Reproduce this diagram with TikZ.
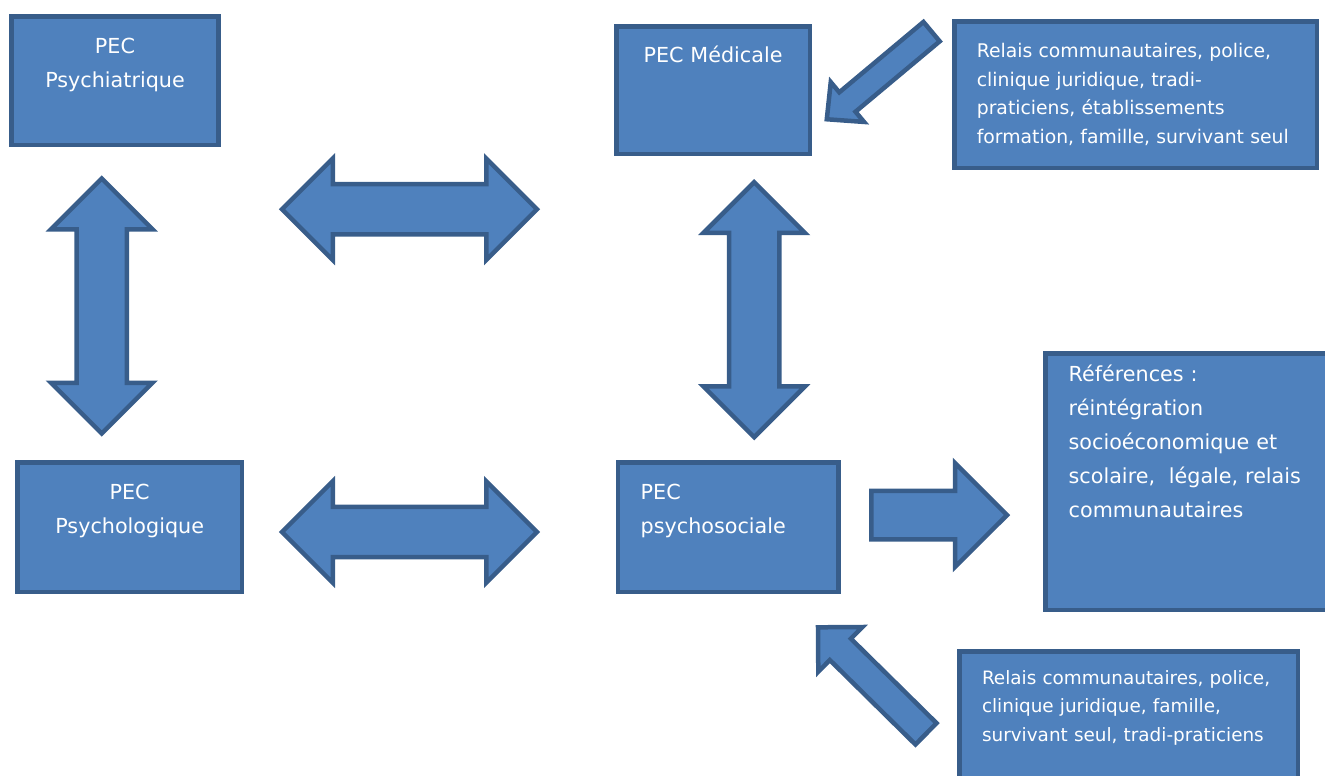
\documentclass[tikz,border=0pt]{standalone}
\usepackage{fontspec}
\setmainfont{DejaVu Sans}
\usetikzlibrary{shapes.arrows}

\definecolor{boxfill}{HTML}{4F81BD}
\definecolor{boxline}{HTML}{385D8A}

\begin{document}
\begin{tikzpicture}[
        x=1pt, y=-1pt,
        box/.style={rectangle, draw=boxline, line width=4.5pt, fill=boxfill, text=white, inner sep=0pt, outer sep=0pt, anchor=north west, align=center, font=\fontsize{20.7}{34}\selectfont},
        leftbox/.style={box, align=left},
        relais/.style={leftbox, font=\fontsize{18.8}{28.4}\selectfont},
        dblarrow/.style={double arrow, draw=boxline, line width=4.5pt, fill=boxfill, inner sep=0pt, inner ysep=22.8pt, double arrow head extend=25.7pt, double arrow tip angle=90, minimum height=255pt},
        sglarrow/.style={single arrow, draw=boxline, line width=4.5pt, fill=boxfill, inner sep=0pt, single arrow tip angle=90, anchor=tail}
    ]
        \useasboundingbox (0,0) rectangle (1325,776);

        % boites de prise en charge
        \node[box, text width=207pt, text height=37pt, text depth=91.7pt] (psychiatrique) at (11.5,16.3) {PEC\\Psychiatrique};
        \node[box, text width=193.5pt, text height=36.4pt, text depth=91.1pt] (medicale) at (616.3,26.3) {PEC Médicale};
        \node[box, text width=224.7pt, text height=36.7pt, text depth=92.8pt] (psychologique) at (17.3,462.3) {PEC\\Psychologique};
        \node[leftbox, inner xsep=22.7pt, text width=175pt, text height=36.7pt, text depth=92.8pt] (psychosociale) at (618,462.3) {PEC\\psychosociale};
        \node[leftbox, inner xsep=23.4pt, text width=245.6pt, text height=27.7pt, text depth=228.8pt] (references) at (1045.3,353.3) {Références :\\réintégration\\socioéconomique et\\scolaire,\ \ légale, relais\\communautaires};

        % relais
        \node[relais, inner xsep=22.3pt, text width=317.7pt, text height=36.3pt, text depth=110pt] (relaisMed) at (954.5,21.5) {Relais communautaires, police,\\clinique juridique, tradi-\\praticiens, établissements\\formation, famille, survivant seul};
        \node[relais, font=\fontsize{18.4}{28.5}\selectfont, inner xsep=22.5pt, text width=293.3pt, text height=32.5pt, text depth=150pt] (relaisSoc) at (959.5,651.5) {Relais communautaires, police,\\clinique juridique, famille,\\survivant seul, tradi-praticiens};

        % liens
        \node[dblarrow] (lienHaut) at (409.5,209.2) {};
        \node[dblarrow] (lienBas) at (409.5,532) {};
        \node[dblarrow, rotate=90] (lienGauche) at (101.7,306) {};
        \node[dblarrow, rotate=90] (lienDroit) at (754.2,309.7) {};

        \node[sglarrow, minimum height=135.8pt, inner ysep=22pt, single arrow head extend=27.7pt] (versReferences) at (869,515) {};
        \node[sglarrow, rotate=219.9, minimum height=136.6pt, inner ysep=10.4pt, single arrow head extend=13.3pt, single arrow tip angle=88] (depuisRelaisMed) at (933.3,30.2) {};
        \node[sglarrow, rotate=135.4, minimum height=151.7pt, inner ysep=12.75pt, single arrow head extend=16.4pt] (depuisRelaisSoc) at (927.6,735.4) {};
    \end{tikzpicture}
\end{document}
